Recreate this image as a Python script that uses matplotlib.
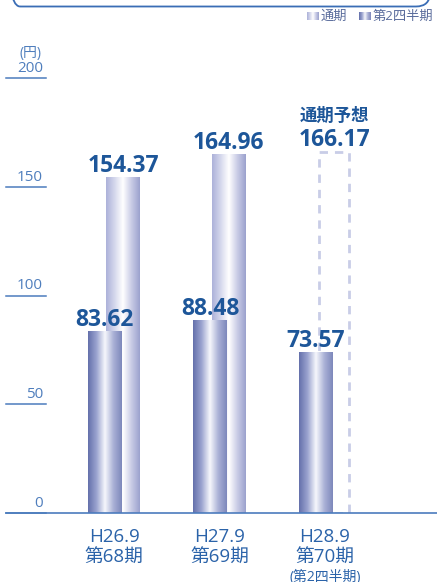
import matplotlib.pyplot as plt
import numpy as np
from matplotlib.colors import LinearSegmentedColormap
from matplotlib.patches import FancyBboxPatch
from matplotlib.transforms import blended_transform_factory, offset_copy

plt.rcParams['font.family'] = ['Open Sans', 'Noto Sans CJK JP', 'DejaVu Sans']

# 1株当たり当期純利益（円）
periods = ['H26.9\n第68期', 'H27.9\n第69期', 'H28.9\n第70期']
q2_values = [83.62, 88.48, 73.57]        # 第2四半期
full_values = [154.37, 164.96, 166.17]  # 通期（最後は予想）
forecast = [False, False, True]
y_ticks = [0, 50, 100, 150, 200]

navy = '#1d5699'
label_blue = '#2b63a9'
tick_blue = '#4f7ebd'
line_blue = '#4c7cbd'

q2_cmap = LinearSegmentedColormap.from_list(
    'q2', ['#6470ab', '#9aa3cf', '#f6f7fc', '#aab1d6', '#7d87bb'])
full_cmap = LinearSegmentedColormap.from_list(
    'full', ['#acb1d9', '#d4d7ec', '#ffffff', '#c9cce6', '#9ba1cd'])

fig = plt.figure(figsize=(4.37, 5.82), dpi=100)
ax = fig.add_axes([6 / 437, 69 / 582, 431 / 437, 435 / 582])

width = 0.32
offset = 0.088
x = np.arange(len(periods))


def gradient_bar(xc, h, cmap, z):
    grad = np.linspace(0, 1, 256).reshape(1, -1)
    ax.imshow(grad, cmap=cmap, aspect='auto', zorder=z,
              extent=[xc - width / 2, xc + width / 2, 0, h])


for i in x:
    if forecast[i]:
        ax.bar(i + offset, full_values[i], width=0.285, fill=False,
               edgecolor='#c9cde7', linestyle=(0, (3, 2.5)), linewidth=2,
               zorder=1)
    else:
        gradient_bar(i + offset, full_values[i], full_cmap, 1)
    gradient_bar(i - offset, q2_values[i], q2_cmap, 2)

    ax.annotate(f'{q2_values[i]:.2f}', (i - offset, q2_values[i]),
                xytext=(0, 4), textcoords='offset points', ha='center',
                va='baseline', fontsize=16.5, fontweight='bold', color=navy,
                zorder=5)
    ax.annotate(f'{full_values[i]:.2f}', (i + offset, full_values[i]),
                xytext=(0, 4), textcoords='offset points', ha='center',
                va='baseline', fontsize=16.5, fontweight='bold', color=navy,
                zorder=5)
    if forecast[i]:
        ax.annotate('通期予想', (i + offset, full_values[i]),
                    xytext=(0, 22), textcoords='offset points', ha='center',
                    va='baseline', fontsize=12.5, fontweight='bold',
                    color=navy)

ax.set_xlim(-1.024, 3.061)
ax.set_ylim(0, 200)

# x軸ラベル
ax.set_xticks(x, periods, fontsize=13.5, color=label_blue, linespacing=1.16)
ax.tick_params(axis='x', length=0, pad=11)
ax.text(x[-1], -0.13, '(第2四半期)', transform=blended_transform_factory(
    ax.transData, ax.transAxes), ha='center', va='top', fontsize=10,
    color=label_blue)

# y軸の目盛り（短い線の上に数値）
ax.set_yticks([])
yt = blended_transform_factory(ax.transAxes, ax.transData)
for v in y_ticks:
    ax.plot([0, 0.093], [v, v], transform=yt, color=line_blue, lw=1.1,
            clip_on=False)
    ax.text(0.086, v, str(v), transform=offset_copy(yt, fig=fig, y=1.5,
            units='points'), ha='right', va='bottom', fontsize=11,
            color=tick_blue)
fig.text(31 / 437, 1 - 54 / 582, '(円)', ha='center', va='center',
         fontsize=10, color=tick_blue)

for s in ['left', 'right', 'top']:
    ax.spines[s].set_visible(False)
ax.spines['bottom'].set_color(line_blue)
ax.spines['bottom'].set_linewidth(1.2)

# 凡例
lax = fig.add_axes([0, 0, 1, 1], facecolor='none')
lax.axis('off')
grad = np.linspace(0, 1, 64).reshape(1, -1)
for x0, cmap, name in [(307, full_cmap, '通期'), (359, q2_cmap, '第2四半期')]:
    lax.imshow(grad, cmap=cmap, aspect='auto', extent=[x0, x0 + 12, 20, 12])
    lax.text(x0 + 14, 16.5, name, ha='left', va='center', fontsize=9.5,
             color='#5a6c9c')
lax.set_xlim(0, 437)
lax.set_ylim(582, 0)

# 上部の枠
fig.patches.append(FancyBboxPatch(
    (0.06, 5.755), 4.24, 1.0, boxstyle='round,pad=0,rounding_size=0.14',
    transform=fig.dpi_scale_trans, fill=False, edgecolor='#3a6db5', lw=1.3))

fig.savefig('out.png', dpi=100)
